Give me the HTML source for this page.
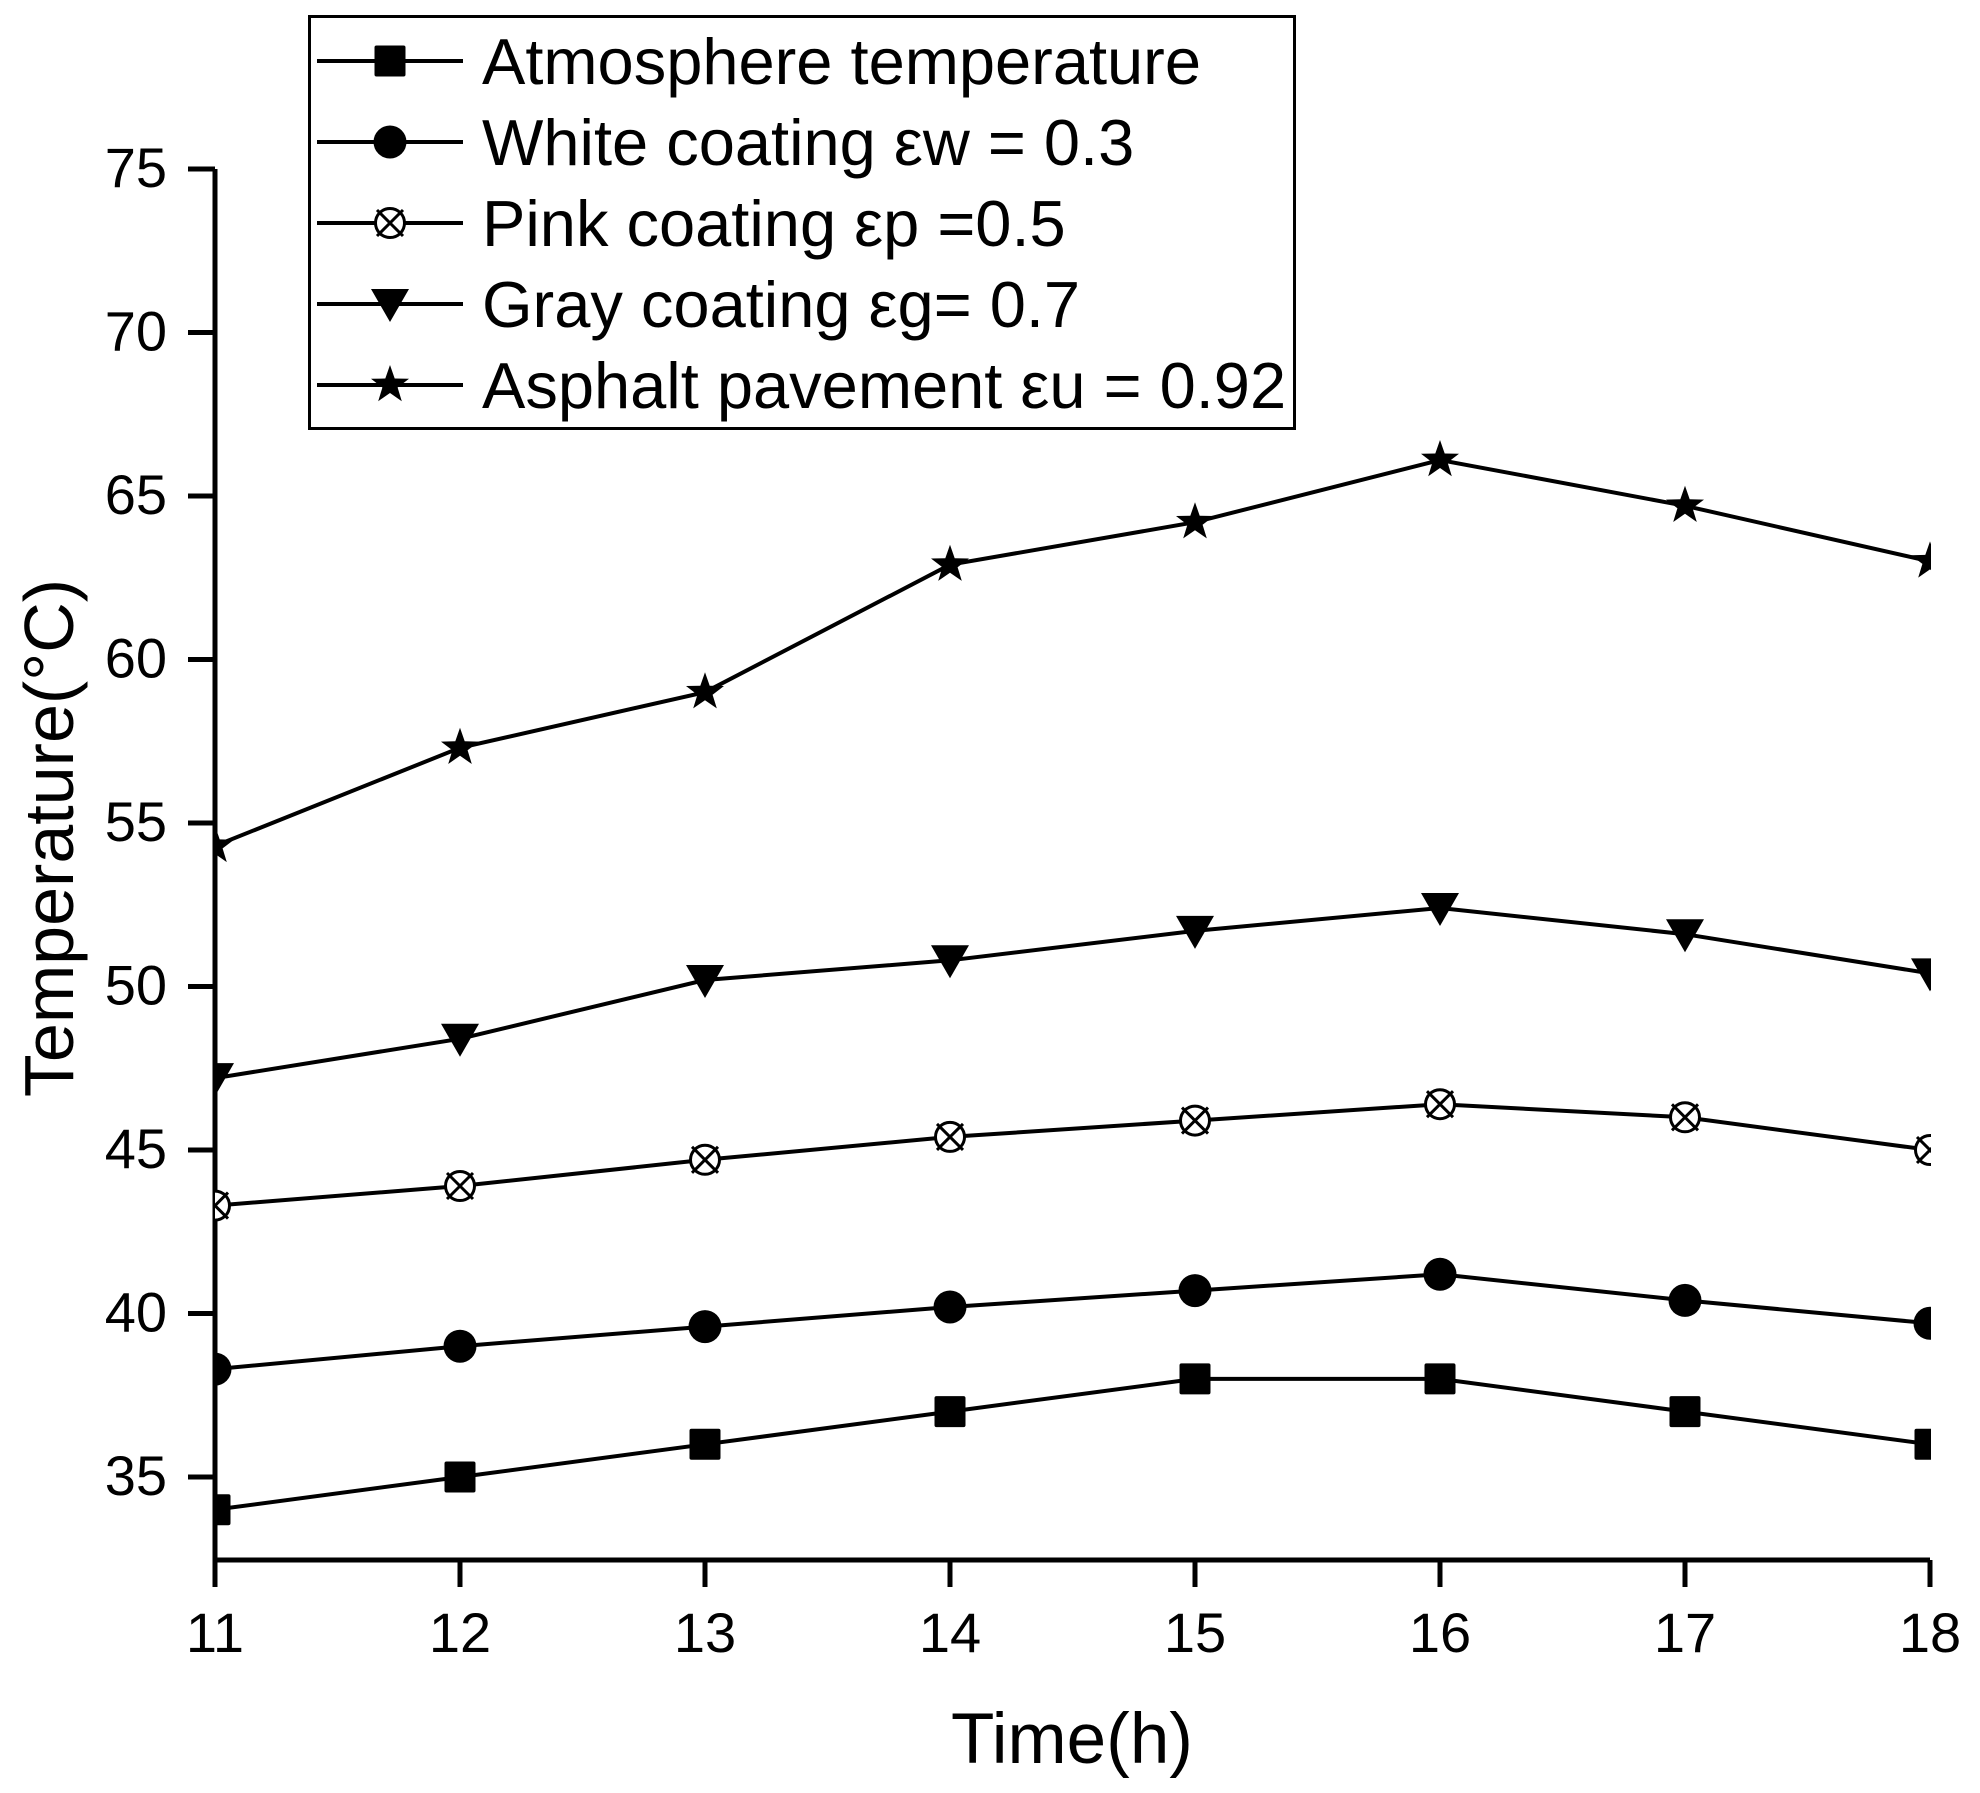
<!DOCTYPE html>
<html><head><meta charset="utf-8"><style>html,body{margin:0;padding:0;background:#fff}svg{display:block}</style></head>
<body>
<svg xmlns="http://www.w3.org/2000/svg" width="1980" height="1793" viewBox="0 0 1980 1793" font-family="Liberation Sans, Arial, sans-serif">
<defs>
<clipPath id="pc"><rect x="215" y="100" width="1716" height="1460"/></clipPath>
<g id="sq"><rect x="-15.5" y="-15.5" width="31" height="31" rx="2" fill="#000"/></g>
<g id="ci"><circle r="16.5" fill="#000"/></g>
<g id="pk"><circle r="14.5" fill="#fff" stroke="#000" stroke-width="3"/><path d="M-13,-13 L13,13 M13,-13 L-13,13" stroke="#000" stroke-width="3"/></g>
<g id="tr"><path d="M-19,-15 L19,-15 L0,18 Z" fill="#000"/></g>
<g id="st"><path d="M0,-20 L4.7,-6.5 L19,-6.2 L7.6,2.5 L11.8,16.2 L0,8 L-11.8,16.2 L-7.6,2.5 L-19,-6.2 L-4.7,-6.5 Z" fill="#000"/></g>
</defs>
<g stroke="#000" stroke-width="5" fill="none">
<path d="M215,169 V1560 H1930"/>
<path d="M188,169 H215 M188,332.5 H215 M188,496 H215 M188,659.5 H215 M188,823 H215 M188,986.5 H215 M188,1150 H215 M188,1313.5 H215 M188,1477 H215"/>
<path d="M215,1560 V1587 M460,1560 V1587 M705,1560 V1587 M950,1560 V1587 M1195,1560 V1587 M1440,1560 V1587 M1685,1560 V1587 M1930,1560 V1587"/>
</g>
<g font-size="56" text-anchor="end" fill="#000">
<text x="167" y="187">75</text><text x="167" y="350.5">70</text><text x="167" y="514">65</text><text x="167" y="677.5">60</text><text x="167" y="841">55</text><text x="167" y="1004.5">50</text><text x="167" y="1168">45</text><text x="167" y="1331.5">40</text><text x="167" y="1495">35</text>
</g>
<g font-size="56" text-anchor="middle" fill="#000">
<text x="215" y="1652">11</text><text x="460" y="1652">12</text><text x="705" y="1652">13</text><text x="950" y="1652">14</text><text x="1195" y="1652">15</text><text x="1440" y="1652">16</text><text x="1685" y="1652">17</text><text x="1930" y="1652">18</text>
</g>
<text x="1072" y="1763" font-size="71" text-anchor="middle">Time(h)</text>
<text transform="translate(73,838) rotate(-90)" font-size="70" text-anchor="middle">Temperature(°C)</text>
<g clip-path="url(#pc)">
<g stroke="#000" stroke-width="4" fill="none">
<polyline points="215,1509.7 460,1477 705,1444.3 950,1411.6 1195,1378.9 1440,1378.9 1685,1411.6 1930,1444.3"/>
<polyline points="215,1369.1 460,1346.2 705,1326.6 950,1307 1195,1290.6 1440,1274.3 1685,1300.4 1930,1323.3"/>
<polyline points="215,1205.6 460,1186 705,1159.8 950,1136.9 1195,1120.6 1440,1104.2 1685,1117.3 1930,1150"/>
<polyline points="215,1078.1 460,1038.8 705,980 950,960.3 1195,930.9 1440,908 1685,934.2 1930,973.4"/>
<polyline points="215,845.9 460,747.8 705,692.2 950,564.7 1195,522.2 1440,460 1685,505.8 1930,561.4"/>
</g>
<use href="#sq" x="215" y="1509.7"/><use href="#sq" x="460" y="1477"/><use href="#sq" x="705" y="1444.3"/><use href="#sq" x="950" y="1411.6"/><use href="#sq" x="1195" y="1378.9"/><use href="#sq" x="1440" y="1378.9"/><use href="#sq" x="1685" y="1411.6"/><use href="#sq" x="1930" y="1444.3"/>
<use href="#ci" x="215" y="1369.1"/><use href="#ci" x="460" y="1346.2"/><use href="#ci" x="705" y="1326.6"/><use href="#ci" x="950" y="1307"/><use href="#ci" x="1195" y="1290.6"/><use href="#ci" x="1440" y="1274.3"/><use href="#ci" x="1685" y="1300.4"/><use href="#ci" x="1930" y="1323.3"/>
<use href="#pk" x="215" y="1205.6"/><use href="#pk" x="460" y="1186"/><use href="#pk" x="705" y="1159.8"/><use href="#pk" x="950" y="1136.9"/><use href="#pk" x="1195" y="1120.6"/><use href="#pk" x="1440" y="1104.2"/><use href="#pk" x="1685" y="1117.3"/><use href="#pk" x="1930" y="1150"/>
<use href="#tr" x="215" y="1078.1"/><use href="#tr" x="460" y="1038.8"/><use href="#tr" x="705" y="980"/><use href="#tr" x="950" y="960.3"/><use href="#tr" x="1195" y="930.9"/><use href="#tr" x="1440" y="908"/><use href="#tr" x="1685" y="934.2"/><use href="#tr" x="1930" y="973.4"/>
<use href="#st" x="215" y="845.9"/><use href="#st" x="460" y="747.8"/><use href="#st" x="705" y="692.2"/><use href="#st" x="950" y="564.7"/><use href="#st" x="1195" y="522.2"/><use href="#st" x="1440" y="460"/><use href="#st" x="1685" y="505.8"/><use href="#st" x="1930" y="561.4"/>
</g>
<rect x="309.5" y="16.5" width="985" height="412" fill="#fff" stroke="#000" stroke-width="3"/>
<g stroke="#000" stroke-width="4">
<path d="M317,61 H463 M317,142 H463 M317,223 H463 M317,304 H463 M317,385 H463"/>
</g>
<use href="#sq" x="390" y="61"/><use href="#ci" x="390" y="142"/><use href="#pk" x="390" y="223"/><use href="#tr" x="390" y="304"/><use href="#st" x="390" y="385"/>
<g font-size="65" fill="#000">
<text x="482" y="84">Atmosphere temperature</text>
<text x="482" y="165">White coating εw = 0.3</text>
<text x="482" y="246">Pink coating εp =0.5</text>
<text x="482" y="327">Gray coating εg= 0.7</text>
<text x="482" y="408">Asphalt pavement εu = 0.92</text>
</g>
</svg>
</body></html>
